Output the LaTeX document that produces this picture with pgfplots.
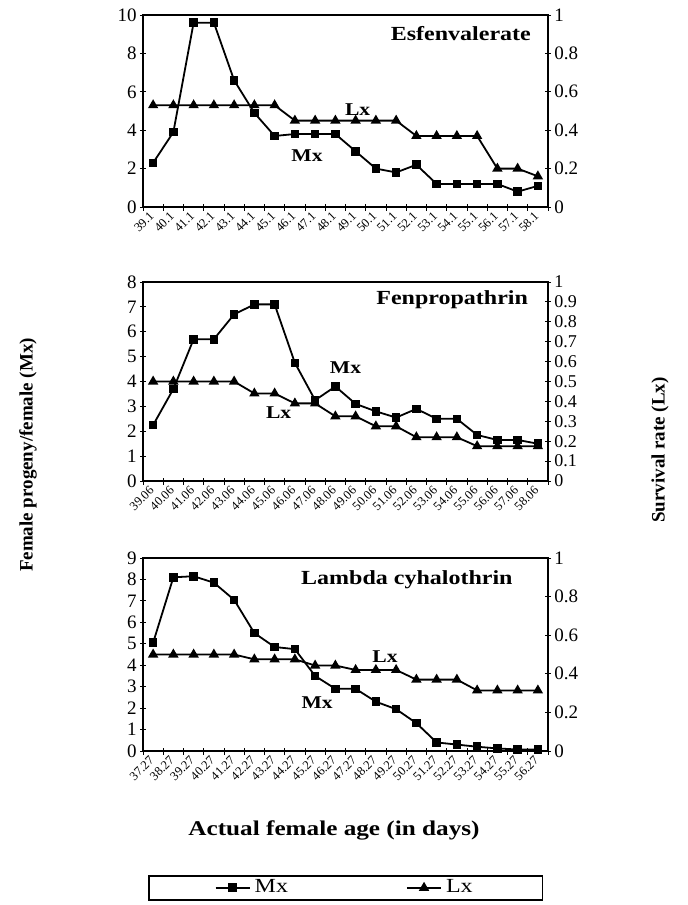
\documentclass[border=0pt]{standalone}
\usepackage{fontspec}
\setmainfont{Liberation Serif}
\newfontfamily\wserif[FakeStretch=1.2]{Liberation Serif}
\usepackage{pgfplots}
\pgfplotsset{compat=1.18}

\pgfplotsset{
  base/.style={
    scale only axis, width=202.5pt, xmin=0.5, xmax=20.5,
    tick align=center,
    major tick length=3pt, minor tick length=3.5pt,
    tick style={black, line width=0.5pt},
    /pgf/number format/assume math mode=true,
    yticklabel style={font=\fontsize{9.5}{10}\selectfont, inner sep=1.5pt},
    every axis plot/.append style={black, line width=0.9pt},
  },
  left/.style={
    base, axis line style={line width=0.7pt},
    xtick={1,...,20}, minor xtick={0.5,1.5,...,20.5},
    major x tick style={draw=none},
    xtick pos=bottom, ytick pos=left,
    xticklabel style={rotate=45, anchor=east, font=\fontsize{6.3}{7}\selectfont, inner sep=0.8pt, xshift=-1pt, yshift=-1pt},
  },
  right/.style={
    base, axis x line=none, axis y line*=right, ymin=0, ymax=1,
    axis line style={line width=0.7pt},
  },
  mx/.style={mark=square*, mark size=1.7pt, mark options={solid, fill=black}},
  lx/.style={mark=triangle*, mark size=2.1pt, mark options={solid, fill=black}},
}

\begin{document}
\begin{tikzpicture}
\path (0,0) rectangle (343.5pt,-452.5pt);

% ---------- Panel 1: Esfenvalerate ----------
\begin{axis}[left, at={(71.5pt,-103.5pt)}, anchor=south west, height=96pt,
  ymin=0, ymax=10, ytick={0,2,...,10},
  xticklabels={39.1,40.1,41.1,42.1,43.1,44.1,45.1,46.1,47.1,48.1,49.1,50.1,51.1,52.1,53.1,54.1,55.1,56.1,57.1,58.1}]
\addplot[mx] coordinates {(1,2.3)(2,3.9)(3,9.6)(4,9.6)(5,6.6)(6,4.9)(7,3.7)(8,3.8)(9,3.8)(10,3.8)(11,2.9)(12,2.0)(13,1.8)(14,2.2)(15,1.2)(16,1.2)(17,1.2)(18,1.2)(19,0.8)(20,1.1)};
\node[font=\wserif\bfseries\fontsize{10}{12}\selectfont, anchor=east] at (rel axis cs:0.975,0.905) {Esfenvalerate};
\node[font=\wserif\bfseries\fontsize{9}{11}\selectfont] at (axis cs:11.1,5.05) {Lx};
\node[font=\wserif\bfseries\fontsize{9}{11}\selectfont] at (axis cs:8.6,2.7) {Mx};
\end{axis}
\begin{axis}[right, at={(71.5pt,-103.5pt)}, anchor=south west, height=96pt,
  ytick={0,0.2,...,1}]
\addplot[lx] coordinates {(1,0.53)(2,0.53)(3,0.53)(4,0.53)(5,0.53)(6,0.53)(7,0.53)(8,0.45)(9,0.45)(10,0.45)(11,0.45)(12,0.45)(13,0.45)(14,0.37)(15,0.37)(16,0.37)(17,0.37)(18,0.20)(19,0.20)(20,0.16)};
\end{axis}

% ---------- Panel 2: Fenpropathrin ----------
\begin{axis}[left, at={(71.5pt,-240.5pt)}, anchor=south west, height=99.5pt,
  ymin=0, ymax=8, ytick={0,1,...,8},
  xticklabels={39.06,40.06,41.06,42.06,43.06,44.06,45.06,46.06,47.06,48.06,49.06,50.06,51.06,52.06,53.06,54.06,55.06,56.06,57.06,58.06}]
\addplot[mx] coordinates {(1,2.25)(2,3.7)(3,5.7)(4,5.7)(5,6.7)(6,7.1)(7,7.1)(8,4.75)(9,3.25)(10,3.8)(11,3.1)(12,2.8)(13,2.55)(14,2.9)(15,2.5)(16,2.5)(17,1.85)(18,1.65)(19,1.65)(20,1.5)};
\node[font=\wserif\bfseries\fontsize{10}{12}\selectfont, anchor=east] at (rel axis cs:0.968,0.91) {Fenpropathrin};
\node[font=\wserif\bfseries\fontsize{9}{11}\selectfont] at (axis cs:10.5,4.54) {Mx};
\node[font=\wserif\bfseries\fontsize{9}{11}\selectfont] at (axis cs:7.2,2.73) {Lx};
\end{axis}
\begin{axis}[right, at={(71.5pt,-240.5pt)}, anchor=south west, height=99.5pt,
  ytick={0,0.1,...,1.01}, yticklabel style={font=\fontsize{9}{10}\selectfont}]
\addplot[lx] coordinates {(1,0.50)(2,0.50)(3,0.50)(4,0.50)(5,0.50)(6,0.44)(7,0.44)(8,0.39)(9,0.39)(10,0.325)(11,0.325)(12,0.275)(13,0.275)(14,0.22)(15,0.22)(16,0.22)(17,0.175)(18,0.175)(19,0.175)(20,0.175)};
\end{axis}

% ---------- Panel 3: Lambda cyhalothrin ----------
\begin{axis}[left, at={(71.5pt,-375.5pt)}, anchor=south west, height=96.5pt,
  ymin=0, ymax=9, ytick={0,1,...,9},
  xticklabels={37.27,38.27,39.27,40.27,41.27,42.27,43.27,44.27,45.27,46.27,47.27,48.27,49.27,50.27,51.27,52.27,53.27,54.27,55.27,56.27}]
\addplot[mx] coordinates {(1,5.05)(2,8.1)(3,8.15)(4,7.85)(5,7.05)(6,5.5)(7,4.85)(8,4.75)(9,3.5)(10,2.9)(11,2.9)(12,2.3)(13,1.95)(14,1.3)(15,0.4)(16,0.3)(17,0.2)(18,0.12)(19,0.07)(20,0.07)};
\node[font=\wserif\bfseries\fontsize{10}{12}\selectfont, anchor=east] at (rel axis cs:0.93,0.886) {Lambda cyhalothrin};
\node[font=\wserif\bfseries\fontsize{9}{11}\selectfont] at (axis cs:12.45,4.38) {Lx};
\node[font=\wserif\bfseries\fontsize{9}{11}\selectfont] at (axis cs:9.1,2.28) {Mx};
\end{axis}
\begin{axis}[right, at={(71.5pt,-375.5pt)}, anchor=south west, height=96.5pt,
  ytick={0,0.2,...,1},
  legend columns=2,
  legend style={at={(0.0123,-0.642)}, anchor=north west, draw=black, line width=0.8pt,
    inner xsep=33pt, inner ysep=0.5pt, font=\wserif\fontsize{10}{11}\selectfont,
    nodes={inner ysep=1.5pt},
    /tikz/every even column/.append style={column sep=57pt}}]
\addlegendimage{mx, black, line width=0.9pt}
\addlegendentry{Mx}
\addplot[lx] coordinates {(1,0.50)(2,0.50)(3,0.50)(4,0.50)(5,0.50)(6,0.475)(7,0.475)(8,0.475)(9,0.443)(10,0.443)(11,0.42)(12,0.42)(13,0.42)(14,0.37)(15,0.37)(16,0.37)(17,0.314)(18,0.314)(19,0.314)(20,0.314)};
\addlegendentry{Lx}
\end{axis}

% ---------- axis titles ----------
\node[rotate=90, font=\bfseries\fontsize{9.5}{11}\selectfont] at (14pt,-227.5pt) {Female progeny/female (Mx)};
\node[rotate=90, font=\bfseries\fontsize{9.5}{11}\selectfont] at (330pt,-225pt) {Survival rate (Lx)};
\node[font=\wserif\bfseries\fontsize{10.5}{12}\selectfont] at (167pt,-415pt) {Actual female age (in days)};
\end{tikzpicture}
\end{document}
